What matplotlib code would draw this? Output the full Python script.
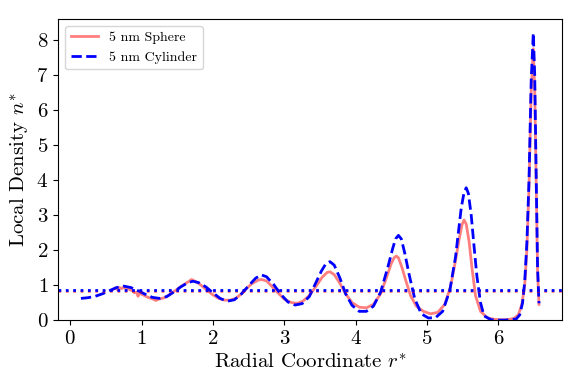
import matplotlib
matplotlib.use("Agg")
from matplotlib import pyplot as plt

plt.rcParams["font.family"] = "serif"
plt.rcParams["font.serif"] = ["cmr10"]
plt.rcParams["mathtext.fontset"] = "cm"
plt.rcParams["axes.formatter.use_mathtext"] = True

# cylinder profile
r_cyl = [0.15, 0.25, 0.35, 0.45, 0.55, 0.65, 0.75, 0.85, 0.95, 1.05, 1.15, 1.25,
         1.35, 1.45, 1.55, 1.65, 1.72, 1.80, 1.90, 2.00, 2.10, 2.20, 2.30, 2.40,
         2.50, 2.60, 2.68, 2.75, 2.85, 2.95, 3.05, 3.15, 3.25, 3.35, 3.45, 3.52,
         3.58, 3.64, 3.70, 3.78, 3.86, 3.95, 4.05, 4.15, 4.25, 4.35, 4.45, 4.52,
         4.56, 4.60, 4.64, 4.69, 4.75, 4.83, 4.92, 5.02, 5.12, 5.22, 5.32, 5.40,
         5.44, 5.48, 5.52, 5.55, 5.58, 5.62, 5.66, 5.70, 5.75, 5.80, 5.90, 6.00,
         6.10, 6.20, 6.25, 6.30, 6.34, 6.37, 6.40, 6.43, 6.46, 6.49, 6.51, 6.53,
         6.55, 6.57]
n_cyl = [0.62, 0.64, 0.68, 0.75, 0.84, 0.93, 0.97, 0.93, 0.84, 0.74, 0.65, 0.62,
         0.67, 0.80, 0.95, 1.07, 1.11, 1.07, 0.95, 0.78, 0.62, 0.54, 0.58, 0.75,
         0.98, 1.20, 1.29, 1.24, 1.02, 0.74, 0.52, 0.43, 0.47, 0.67, 1.10, 1.40,
         1.60, 1.67, 1.57, 1.20, 0.75, 0.42, 0.25, 0.25, 0.40, 0.80, 1.50, 2.05,
         2.32, 2.42, 2.32, 1.90, 1.30, 0.60, 0.18, 0.06, 0.07, 0.25, 0.85, 1.80,
         2.50, 3.20, 3.65, 3.78, 3.62, 3.00, 2.10, 1.25, 0.50, 0.12, 0.01, 0.00,
         0.00, 0.02, 0.03, 0.15, 0.50, 1.10, 2.20, 4.00, 6.80, 8.20, 7.00, 4.20,
         1.50, 0.48]

# sphere profile
r_sph = [0.60, 0.63, 0.66, 0.69, 0.72, 0.75, 0.78, 0.81, 0.84, 0.87, 0.90, 0.93,
         0.95, 0.97, 1.00, 1.04, 1.08, 1.12, 1.16, 1.20, 1.24, 1.28, 1.32, 1.38,
         1.44, 1.50, 1.56, 1.62, 1.66, 1.70, 1.73, 1.76, 1.80, 1.86, 1.92, 2.00,
         2.08, 2.16, 2.24, 2.32, 2.40, 2.48, 2.55, 2.60, 2.63, 2.68, 2.75, 2.82,
         2.90, 3.00, 3.10, 3.18, 3.26, 3.35, 3.45, 3.53, 3.60, 3.64, 3.70, 3.78,
         3.86, 3.95, 4.05, 4.15, 4.25, 4.35, 4.43, 4.50, 4.54, 4.57, 4.60, 4.65,
         4.70, 4.77, 4.85, 4.95, 5.05, 5.15, 5.25, 5.33, 5.40, 5.45, 5.49, 5.52,
         5.55, 5.59, 5.63, 5.68, 5.75, 5.85, 5.95, 6.05, 6.15, 6.22, 6.28, 6.33,
         6.37, 6.40, 6.43, 6.46, 6.49, 6.51, 6.53, 6.55, 6.57]
n_sph = [0.88, 0.92, 0.87, 0.93, 0.90, 0.94, 0.89, 0.91, 0.86, 0.84, 0.78, 0.80,
         0.68, 0.76, 0.74, 0.70, 0.66, 0.63, 0.60, 0.56, 0.60, 0.62, 0.64, 0.70,
         0.80, 0.88, 0.97, 1.05, 1.10, 1.16, 1.13, 1.10, 1.05, 0.95, 0.85, 0.72,
         0.62, 0.57, 0.57, 0.62, 0.75, 0.92, 1.05, 1.10, 1.14, 1.16, 1.12, 0.98,
         0.80, 0.60, 0.50, 0.48, 0.54, 0.70, 0.98, 1.22, 1.36, 1.38, 1.30, 1.05,
         0.75, 0.50, 0.37, 0.35, 0.45, 0.75, 1.20, 1.62, 1.78, 1.83, 1.78, 1.50,
         1.15, 0.70, 0.40, 0.25, 0.18, 0.22, 0.45, 0.95, 1.70, 2.30, 2.72, 2.86,
         2.74, 2.25, 1.50, 0.70, 0.25, 0.06, 0.02, 0.01, 0.02, 0.05, 0.15, 0.45,
         1.00, 2.00, 3.80, 6.50, 7.75, 6.60, 4.00, 1.40, 0.45]

bulk_sph = 0.82
bulk_cyl = 0.85

fig = plt.figure(figsize=(5.81, 3.88), dpi=100)
ax = fig.add_axes([0.1, 0.175, 0.867, 0.776])
ax.plot(r_sph, n_sph, color="red", alpha=0.5, lw=2, label="5 nm Sphere")
ax.plot(r_cyl, n_cyl, color="blue", ls="--", lw=2, label="5 nm Cylinder")
ax.axhline(bulk_sph, color="red", alpha=0.5, ls=":", lw=2)
ax.axhline(bulk_cyl, color="blue", ls=":", lw=2)

ax.set_xlim(-0.17, 6.89)
ax.set_ylim(0, 8.6)
ax.set_xticks([0, 1, 2, 3, 4, 5, 6])
ax.set_yticks([0, 1, 2, 3, 4, 5, 6, 7, 8])
ax.tick_params(labelsize=15)
ax.set_xlabel(r"Radial Coordinate $r^{*}$", fontsize=15)
ax.set_ylabel(r"Local Density $n^{*}$", fontsize=15)
ax.legend(loc="upper left", fontsize=10)

plt.savefig("out.png", dpi=100)
